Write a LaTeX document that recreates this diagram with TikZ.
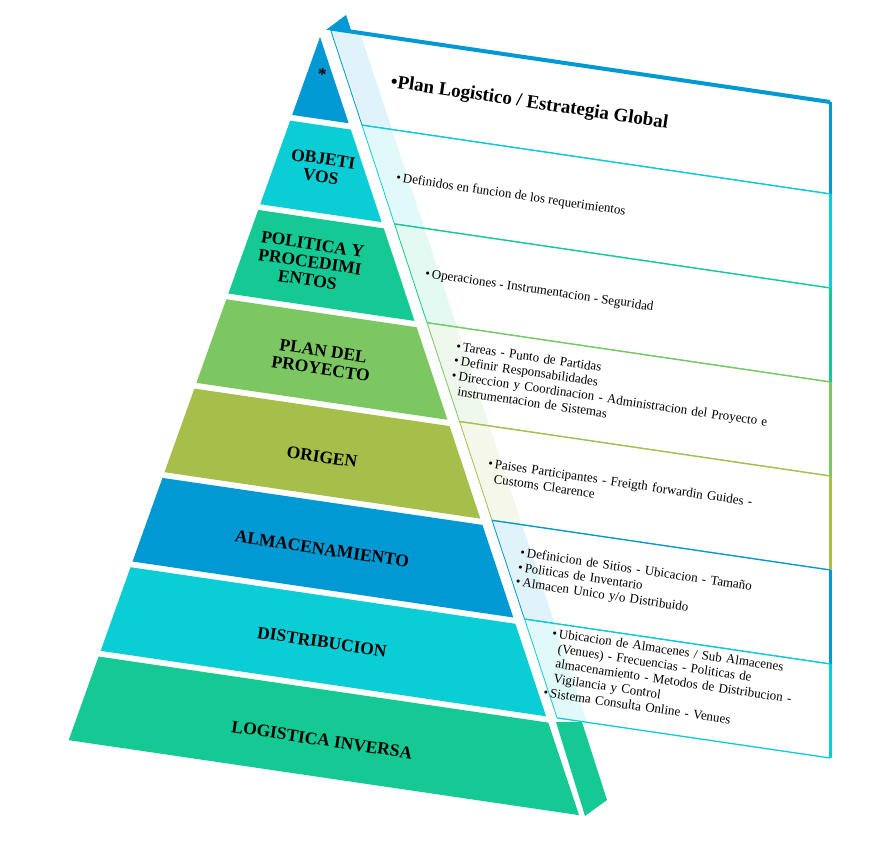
\documentclass[tikz,border=0pt]{standalone}
\usepackage{fontspec}
\setmainfont{Liberation Serif}
\usetikzlibrary{calc}
\definecolor{cb}{HTML}{0099D4}
\definecolor{cc}{HTML}{0BCDD6}
\definecolor{cg}{HTML}{14C994}
\definecolor{cl}{HTML}{7DC763}
\definecolor{co}{HTML}{A5BF4A}
\newcommand\bandpt[3]{\pgfmathsetmacro\bbx{#3+130.2}\coordinate (#1) at (intersection of #2 and 0,#3--886,\bbx);}
\newcommand\mylayer[4]{\bandpt{#1tl}{Ap--BLp}{#2}\bandpt{#1tr}{Ap--BRp}{#2}\bandpt{#1bl}{Ap--BLp}{#3}\bandpt{#1br}{Ap--BRp}{#3}
 \fill[#4] (#1tl)--(#1tr)--(#1br)--(#1bl)--cycle;}
\newcommand\mypanel[4]{\bandpt{#1a}{Pa--Pb}{#2}\bandpt{#1d}{Pa--Pb}{#3}\pgfmathsetmacro\ya{#2+122}\pgfmathsetmacro\yd{#3+122}
 \fill[white] (#1a)--(830,\ya)--(830,\yd)--(#1d)--cycle;
 \fill[#4!12] (#1a)--($(#1a)+(30,4.4)$)--($(#1d)+(30,4.4)$)--(#1d)--cycle;
 \draw[#4,line width=0.8] (#1a)--(#1d);
 \draw[#4,line width=1.3] (#1a)--(830,\ya) (#1d)--(830,\yd);
 \draw[#4,line width=3] (830,\ya)--(830,\yd);}
\tikzset{lab/.style={font=\bfseries\fontsize{17.5}{18}\selectfont,align=center,rotate=-8.4,inner sep=0},
 ptxt/.style={font=\fontsize{13}{15}\selectfont,anchor=north west,rotate=-8.4,align=left,inner sep=0}}
\newcommand\bul[1]{\raggedright\hangindent=0.6em\hangafter=1\textbullet\,#1\par}
\begin{document}
\begin{tikzpicture}[x=1pt,y=-1pt]
\useasboundingbox (0,0) rectangle (886,842);
\coordinate (Ap) at (320,37);
\coordinate (BLp) at (68,742);
\coordinate (BRp) at (580,818);
\coordinate (Pa) at (330,28);
\coordinate (Pb) at (590,818);
% panels
\mypanel{p1}{-20}{72}{cb}
\mypanel{p2}{72}{166}{cc}
\mypanel{p3}{166}{260}{cg}
\mypanel{p4}{260}{354}{cl}
\mypanel{p5}{354}{448}{co}
\mypanel{p6}{448}{542}{cb}
\mypanel{p7}{542}{636}{cc}
\draw[cb,line width=4] (p1a)--(830,102);
\fill[cb] (326,30)--(346,15)--(351,30)--cycle;
% layers
\bandpt{l1l}{Ap--BLp}{72}\bandpt{l1r}{Ap--BRp}{72}
\fill[cb] (Ap)--(l1r)--(l1l)--cycle;
\mylayer{l2}{78}{166}{cc}
\mylayer{l3}{172}{260}{cg}
\mylayer{l4}{266}{354}{cl}
\mylayer{l5}{360}{448}{co}
\mylayer{l6}{454}{542}{cb}
\mylayer{l7}{548}{636}{cc}
\mylayer{l8}{642}{730}{cg}
\fill[cg] (556,722)--(585,816)--(607,800)--(582,722)--cycle;
% labels
\node[lab] (t1) at (322,74) {*};
\node[lab] (t2) at (322,168) {OBJETI\\VOS};
\node[lab] (t3) at (310,262) {POLITICA Y\\PROCEDIMI\\ENTOS};
\node[lab] (t4) at (322,360) {PLAN DEL\\PROYECTO};
\node[lab] (t5) at (322,457) {ORIGEN};
\node[lab] (t6) at (322,549) {ALMACENAMIENTO};
\node[lab] (t7) at (322,642) {DISTRIBUCION};
\node[lab] (t8) at (322,740) {LOGISTICA INVERSA};
% panel texts
\node[ptxt,font=\bfseries\fontsize{19}{19}\selectfont] (d1) at (392,74) {\textbullet Plan Logistico / Estrategia Global};
\node[ptxt] (d2) at (397,172) {\textbullet\,Definidos en funcion de los requerimientos};
\node[ptxt] (d3) at (426,268) {\textbullet\,Operaciones - Instrumentacion - Seguridad};
\node[ptxt,text width=350] (d4) at (457,341) {\bul{Tareas - Punto de Partidas}\bul{Definir Responsabilidades}\bul{Direccion y Coordinacion - Administracion del Proyecto e instrumentacion de Sistemas}};
\node[ptxt,text width=300] (d5) at (489,458) {\bul{Paises Participantes - Freigth forwardin Guides - Customs Clearence}};
\node[ptxt,text width=280] (d6) at (521,547) {\bul{Definicion de Sitios - Ubicacion - Tamaño}\bul{Politicas de Inventario}\bul{Almacen Unico y/o Distribuido}};
\node[ptxt,text width=268] (d7) at (553,628) {\bul{Ubicacion de Almacenes / Sub Almacenes (Venues) - Frecuencias - Politicas de almacenamiento - Metodos de Distribucion - Vigilancia y Control}\bul{Sistema Consulta Online - Venues}};
\end{tikzpicture}
\end{document}
